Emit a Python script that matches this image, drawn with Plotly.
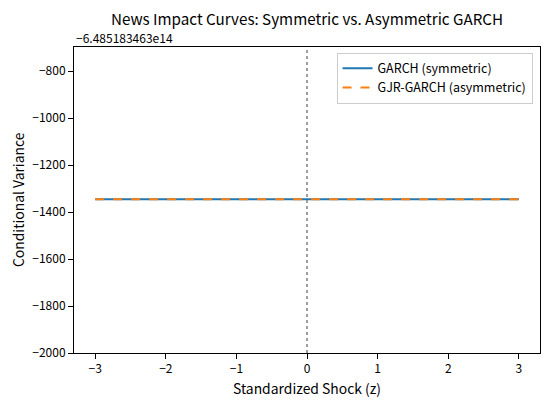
import plotly.graph_objects as go

FONT = "Noto Sans CJK JP"

# standardized shocks and the news-impact values (relative to the axis offset)
OFFSET_LABEL = "\u22126.485183463e14"
shocks = [-3, -2, -1, 0, 1, 2, 3]
garch_var = [-1345, -1345, -1345, -1345, -1345, -1345, -1345]
gjr_var = [-1345, -1345, -1345, -1345, -1345, -1345, -1345]

y_ticks = [-2000, -1800, -1600, -1400, -1200, -1000, -800]
x_ticks = [-3, -2, -1, 0, 1, 2, 3]


def minus(v):
    return str(v).replace("-", "\u2212")


fig = go.Figure()

fig.add_trace(go.Scatter(
    name="GARCH (symmetric)",
    x=shocks, y=garch_var,
    mode="lines",
    line=dict(color="#1f77b4", width=2),
))
fig.add_trace(go.Scatter(
    name="GJR-GARCH (asymmetric)",
    x=shocks, y=gjr_var,
    mode="lines",
    line=dict(color="#ff7f0e", width=2, dash="dash"),
))

fig.add_vline(x=0, line=dict(color="gray", width=1.5, dash="dot"))

axis_common = dict(
    showline=True, linecolor="black", linewidth=1, mirror=True,
    ticks="outside", ticklen=5, tickcolor="black",
    showgrid=False, zeroline=False, automargin=False,
    tickfont=dict(family=FONT, size=12, color="black"),
)

# axis titles and the offset text placed as annotations (standoff is ignored
# without automargin)
labels = [
    dict(text="Standardized Shock (z)", x=0.5, y=0, xanchor="center", yanchor="middle",
         yshift=-35, font=dict(family=FONT, size=13.9, color="black")),
    dict(text="Conditional Variance", x=0, y=0.5, xanchor="center", yanchor="middle",
         xshift=-56, textangle=-90, font=dict(family=FONT, size=13.9, color="black")),
    dict(text=OFFSET_LABEL, x=0, y=1, xanchor="left", yanchor="middle", yshift=10,
         font=dict(family=FONT, size=12, color="black")),
]
for a in labels:
    a.update(xref="paper", yref="paper", showarrow=False)

# the page body adds an 8px offset, so margins are shifted to compensate
fig.update_layout(
    width=549, height=406,
    margin=dict(l=66, r=17, t=39, b=61),
    plot_bgcolor="white", paper_bgcolor="white",
    font=dict(family=FONT, size=12, color="black"),
    title=dict(
        text="News Impact Curves: Symmetric vs. Asymmetric GARCH",
        x=0.5, xref="paper", xanchor="center",
        y=1 - 12 / 406, yanchor="middle",
        font=dict(family=FONT, size=15.2, color="black"),
    ),
    xaxis=dict(
        range=[-3.3, 3.3], tickvals=x_ticks,
        ticktext=[minus(v) for v in x_ticks],
        **axis_common,
    ),
    yaxis=dict(
        range=[-2000, -697], tickvals=y_ticks,
        ticktext=[minus(v) for v in y_ticks],
        **axis_common,
    ),
    legend=dict(
        x=0.984, y=0.982, xanchor="right", yanchor="top",
        bordercolor="#cccccc", borderwidth=1, bgcolor="rgba(255,255,255,0.8)",
        font=dict(family=FONT, size=12.5, color="black"),
        tracegroupgap=2,
    ),
    showlegend=True,
    annotations=labels,
)

fig.write_html("out.html")
